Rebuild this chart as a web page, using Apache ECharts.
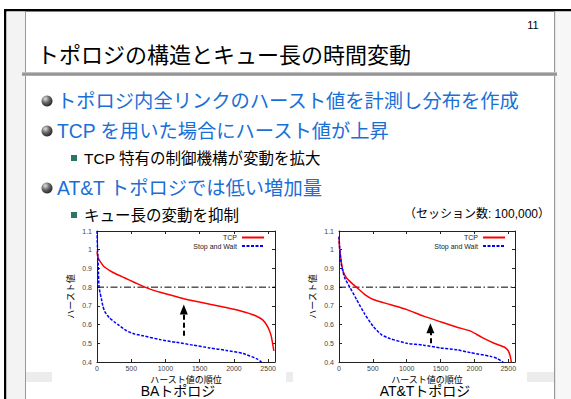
<!DOCTYPE html>
<html><head><meta charset="utf-8">
<script src="https://cdn.jsdelivr.net/npm/echarts@6/dist/echarts.min.js"></script>
<style>html,body{margin:0;padding:0;background:#fff}#c{width:571px;height:399px}</style>
</head><body><div id="c"></div>
<script>
// ---------- data ----------
const seriesNames = ['TCP', 'Stop and Wait'];
const xTickInterval = 500;
const xMax = 2600;
const yMin = 0.4, yMax = 1.1, yInterval = 0.1;
const threshold = 0.8;

// BA topology
const baTcpRank  = [0, 10, 25, 50, 100, 180, 280, 400, 550, 700, 850, 1000, 1200, 1400, 1650, 1900, 2100, 2300, 2420, 2490, 2540, 2565, 2583];
const baTcpHurst = [0.99, 0.965, 0.95, 0.935, 0.91, 0.89, 0.87, 0.85, 0.825, 0.8, 0.78, 0.765, 0.745, 0.727, 0.708, 0.69, 0.673, 0.65, 0.625, 0.59, 0.545, 0.5, 0.46];
const baSwRank   = [0, 8, 15, 22, 30, 45, 63, 85, 112, 150, 185, 250, 307, 430, 550, 673, 916, 1160, 1403, 1647, 1890, 2134, 2330, 2400, 2430];
const baSwHurst  = [1.1, 1.0, 0.95, 0.87, 0.8, 0.77, 0.74, 0.7, 0.67, 0.65, 0.635, 0.615, 0.6, 0.567, 0.55, 0.54, 0.52, 0.505, 0.49, 0.475, 0.462, 0.445, 0.418, 0.4, 0.39];
const baArrow = {rank: 1268, from: 0.54, to: 0.68};

// AT&T topology
const attTcpRank  = [0, 10, 20, 40, 60, 109, 184, 258, 382, 506, 754, 1002, 1250, 1498, 1746, 1944, 2118, 2292, 2440, 2500, 2530, 2550];
const attTcpHurst = [1.07, 1.0, 0.975, 0.92, 0.885, 0.85, 0.823, 0.8, 0.76, 0.734, 0.707, 0.68, 0.645, 0.615, 0.586, 0.565, 0.53, 0.5, 0.48, 0.46, 0.43, 0.39];
const attSwRank   = [0, 15, 35, 84, 159, 258, 382, 506, 630, 754, 1002, 1250, 1498, 1746, 1944, 2241, 2340, 2420, 2450];
const attSwHurst  = [1.07, 0.98, 0.92, 0.85, 0.8, 0.735, 0.655, 0.59, 0.545, 0.525, 0.5, 0.49, 0.475, 0.465, 0.45, 0.43, 0.418, 0.4, 0.39];
const attArrow = {rank: 1350, from: 0.5, to: 0.58};

// texts
const slideTitle = 'トポロジの構造とキュー長の時間変動';
const pageNo = '11';
const bullets = ['トポロジ内全リンクのハースト値を計測し分布を作成', 'TCP を用いた場合にハースト値が上昇', 'AT&T トポロジでは低い増加量'];
const subBullets = ['TCP 特有の制御機構が変動を拡大', 'キュー長の変動を抑制'];
const note = '（セッション数: 100,000）';
const yName = 'ハースト値';
const xName = 'ハースト値の順位';
const captions = ['BAトポロジ', 'AT&Tトポロジ'];

// ---------- chart ----------
const FONT = "'Liberation Sans','Noto Sans CJK JP',sans-serif";
const zip = (a, b) => a.map((v, i) => [v, b[i]]);
const chart = echarts.init(document.getElementById('c'), null, {renderer: 'svg'});

const grids = [
  {left: 97, top: 231, width: 178, height: 131},
  {left: 339, top: 231, width: 176, height: 131}
];
const axisCol = '#222';
function xAx(g, pos) {
  const main = pos === 'bottom';
  return {
    type: 'value', gridIndex: g, position: pos, min: 0, max: xMax, interval: xTickInterval,
    name: main ? xName : '', nameLocation: 'middle', nameGap: 13,
    nameTextStyle: {fontSize: 9, color: '#000', fontFamily: FONT},
    axisLine: {show: true, onZero: false, lineStyle: {color: axisCol, width: 1}},
    axisTick: {show: true, inside: true, length: 3, lineStyle: {color: axisCol}},
    axisLabel: {show: main, fontSize: 7, color: '#444', margin: 3, showMaxLabel: false, fontFamily: FONT,
      formatter: v => String(v)},
    splitLine: {show: false}
  };
}
function yAx(g, pos) {
  const main = pos === 'left';
  return {
    type: 'value', gridIndex: g, position: pos, min: yMin, max: yMax, interval: yInterval,
    name: main ? yName : '', nameLocation: 'middle', nameGap: 22,
    nameTextStyle: {fontSize: 9, color: '#000', fontFamily: FONT},
    axisLine: {show: true, onZero: false, lineStyle: {color: axisCol, width: 1}},
    axisTick: {show: true, inside: true, length: 3, lineStyle: {color: axisCol}},
    axisLabel: {show: main, fontSize: 7, color: '#444', margin: 5, fontFamily: FONT},
    splitLine: {show: false}
  };
}
const tcpStyle = {color: '#ff0000', width: 1.5, type: 'solid'};
const swStyle = {color: '#0000ff', width: 1.5, type: [3, 1.5]};

function panelSeries(xi, tcpR, tcpH, swR, swH, arrow) {
  return [
    {name: seriesNames[0], type: 'line', xAxisIndex: xi, yAxisIndex: xi, data: zip(tcpR, tcpH),
     symbol: 'none', smooth: 0.2, lineStyle: tcpStyle, itemStyle: {color: '#ff0000'}, clip: true, silent: true, z: 3},
    {name: seriesNames[1], type: 'line', xAxisIndex: xi, yAxisIndex: xi, data: zip(swR, swH),
     symbol: 'none', smooth: 0.2, lineStyle: swStyle, itemStyle: {color: '#0000ff'}, clip: true, silent: true, z: 3},
    {name: 'threshold', type: 'line', xAxisIndex: xi, yAxisIndex: xi, data: [[0, threshold], [xMax, threshold]],
     symbol: 'none', lineStyle: {color: '#000', width: 1, type: [7, 2.5, 1.5, 2.5]}, silent: true, z: 2,
     markLine: {silent: true, symbol: ['none', 'triangle'], symbolSize: [8, 10], label: {show: false},
       lineStyle: {color: '#000', width: 2, type: [5, 3]},
       data: [[{coord: [arrow.rank, arrow.from]}, {coord: [arrow.rank, arrow.to]}]]}}
  ];
}

const graphic = [
  // frame
  {type: 'rect', shape: {x: 4, y: 9, width: 567, height: 2.5}, style: {fill: '#000'}},
  {type: 'rect', shape: {x: 4, y: 9, width: 2.5, height: 390}, style: {fill: '#000'}},
  {type: 'rect', shape: {x: 6.5, y: 11.5, width: 18.5, height: 388}, style: {fill: '#f3f3f3'}},
  {type: 'rect', shape: {x: 25, y: 11.5, width: 1, height: 388}, style: {fill: '#999'}},
  {type: 'rect', shape: {x: 555, y: 11.5, width: 16, height: 388}, style: {fill: '#f7f7f7'}},
  {type: 'rect', shape: {x: 554, y: 11.5, width: 1.2, height: 388}, style: {fill: '#999'}},
  // title rule
  {type: 'rect', shape: {x: 22, y: 72, width: 535, height: 4},
   style: {fill: new echarts.graphic.LinearGradient(0, 0, 0, 1, [{offset: 0, color: '#d0d0d0'}, {offset: 0.5, color: '#888'}, {offset: 1, color: '#b8b8b8'}])}},
  {type: 'text', style: {text: pageNo, x: 533, y: 25, align: 'center', verticalAlign: 'middle', font: '11px ' + FONT, fill: '#000'}},
  {type: 'text', style: {text: slideTitle, x: 37, y: 55, verticalAlign: 'middle', font: '22px ' + FONT, fill: '#000'}},
  // dotted artifacts
  {type: 'rect', shape: {x: 26, y: 372, width: 26, height: 10}, style: {fill: '#ececec'}},
  {type: 'rect', shape: {x: 286, y: 372, width: 7, height: 10}, style: {fill: '#ececec'}},
  {type: 'rect', shape: {x: 527, y: 372, width: 27, height: 10}, style: {fill: '#ececec'}},
  // captions
  {type: 'text', style: {text: captions[0], x: 178, y: 391, align: 'center', verticalAlign: 'middle', font: '14px ' + FONT, fill: '#000'}},
  {type: 'text', style: {text: captions[1], x: 425, y: 391, align: 'center', verticalAlign: 'middle', font: '14px ' + FONT, fill: '#000'}},
  {type: 'text', style: {text: note, x: 550, y: 214, align: 'right', verticalAlign: 'middle', font: '12px ' + FONT, fill: '#000'}}
];
const bulletY = [101, 131, 188];
const subY = [158, 215];
const sphere = new echarts.graphic.RadialGradient(0.35, 0.3, 0.75, [{offset: 0, color: '#e0e0e0'}, {offset: 0.5, color: '#666'}, {offset: 1, color: '#222'}]);
bullets.forEach((t, i) => {
  graphic.push({type: 'circle', shape: {cx: 47, cy: bulletY[i], r: 5.5}, style: {fill: sphere}});
  graphic.push({type: 'text', style: {text: t, x: 57, y: bulletY[i], verticalAlign: 'middle', font: '19.3px ' + FONT, fill: '#1a6fd6'}});
});
subBullets.forEach((t, i) => {
  graphic.push({type: 'rect', shape: {x: 71, y: subY[i] - 3, width: 6, height: 6}, style: {fill: '#2b7468'}});
  graphic.push({type: 'text', style: {text: t, x: 84, y: subY[i], verticalAlign: 'middle', font: '15.5px ' + FONT, fill: '#000'}});
});

const legendBase = {orient: 'vertical', align: 'right', top: 234, itemWidth: 22, itemHeight: 7, itemGap: 1.5,
  padding: 0, selectedMode: false, itemStyle: {opacity: 0, borderWidth: 0},
  textStyle: {fontSize: 7, color: '#222', fontFamily: FONT}, data: seriesNames};

chart.setOption({
  backgroundColor: '#fff',
  animation: false,
  grid: grids,
  xAxis: [xAx(0, 'bottom'), xAx(0, 'top'), xAx(1, 'bottom'), xAx(1, 'top')],
  yAxis: [yAx(0, 'left'), yAx(0, 'right'), yAx(1, 'left'), yAx(1, 'right')],
  legend: [Object.assign({right: 306}, legendBase), Object.assign({right: 65}, legendBase)],
  series: [
    ...panelSeries(0, baTcpRank, baTcpHurst, baSwRank, baSwHurst, baArrow),
    ...panelSeries(2, attTcpRank, attTcpHurst, attSwRank, attSwHurst, attArrow)
  ],
  graphic: graphic
});
</script></body></html>
